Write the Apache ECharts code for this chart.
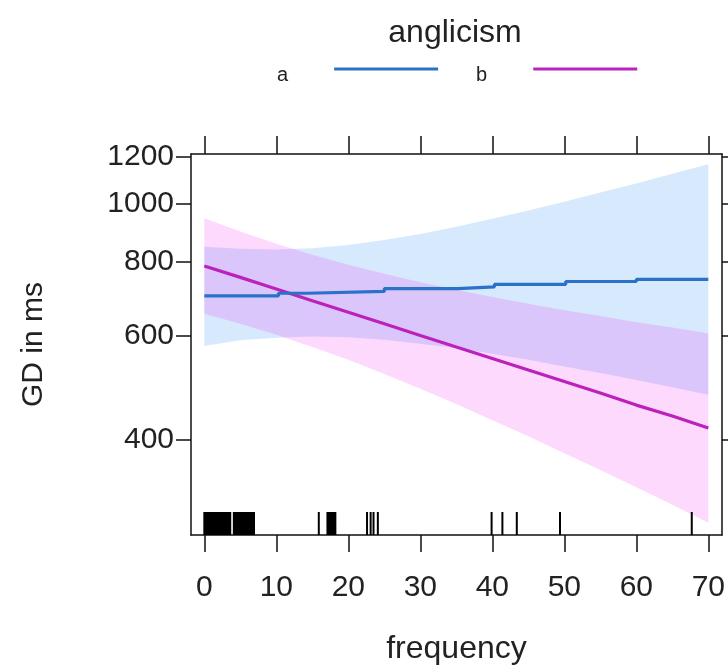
<!DOCTYPE html>
<html>
<head>
<meta charset="utf-8">
<script src="https://cdn.jsdelivr.net/npm/echarts@6/dist/echarts.min.js"></script>
<style>
html,body{margin:0;padding:0;background:#fff;}
#chart{width:728px;height:672px;}
</style>
</head>
<body>
<div id="chart"></div>
<script>
// ---- data ----
const freqGrid = [0, 5, 10, 15, 20, 25, 30, 35, 40, 45, 50, 55, 60, 65, 70];
const aLower = [576, 589, 595, 598, 596, 590, 581, 571, 559, 546, 532, 519, 505, 491, 477];
const aUpper = [847, 840, 838, 842, 853, 869, 890, 915, 944, 975, 1009, 1045, 1083, 1124, 1167];
const bFit   = [786, 752, 719, 687, 657, 628, 600, 574, 549, 525, 502, 480, 458, 439, 419];
const bLower = [653, 628, 602, 574, 546, 517, 488, 460, 432, 406, 380, 356, 333, 311, 290];
const bUpper = [946, 899, 857, 821, 790, 763, 738, 717, 697, 679, 662, 647, 632, 619, 605];
const aStepX = [0, 10.3, 14.3, 25, 35.2, 40.3, 50.2, 60, 70];
const aStepY = [700, 707, 712, 720, 725, 732, 740, 746, 746];
const rugIntervals = [[0, 3.6], [4.1, 6.9], [15.9, 15.9], [17.1, 18.2], [22.6, 22.6], [23.1, 23.1],
  [23.5, 23.5], [24.1, 24.1], [39.9, 39.9], [41.4, 41.4], [43.4, 43.4], [49.4, 49.4], [67.7, 67.7]];
const xTicks = [0, 10, 20, 30, 40, 50, 60, 70];
const yTicks = [400, 600, 800, 1000, 1200];
const X_MIN = -1.85, X_MAX = 71.9;
const Y_MIN = 276.6, Y_MAX = 1214;

const FONT = '"Liberation Sans", Arial, sans-serif';
const chart = echarts.init(document.getElementById('chart'), null, {renderer: 'canvas'});

function bandSeries(name, lo, hi, color) {
  return {
    type: 'custom', name: name, xAxisIndex: 0, yAxisIndex: 0, silent: true, clip: true, z: 1,
    data: freqGrid.map((x, i) => [x, lo[i], hi[i]]),
    encode: {x: 0, y: [1, 2]},
    renderItem: function (params, api) {
      if (params.dataIndex !== 0) return null;
      const pts = [];
      for (let i = 0; i < freqGrid.length; i++) pts.push(api.coord([freqGrid[i], hi[i]]));
      for (let i = freqGrid.length - 1; i >= 0; i--) pts.push(api.coord([freqGrid[i], lo[i]]));
      return {type: 'polygon', shape: {points: pts}, style: {fill: color}};
    }
  };
}

const axisLineStyle = {color: '#111', width: 1.5};

const option = {
  backgroundColor: '#fff',
  animation: false,
  textStyle: {fontFamily: FONT},
  title: {
    text: 'anglicism', left: 450, top: 12, textAlign: 'center',
    textStyle: {fontFamily: FONT, fontSize: 32, fontWeight: 'normal', color: '#222'}
  },
  legend: {
    data: ['a', 'b'], left: 272, top: 60, orient: 'horizontal', align: 'right',
    icon: 'rect', itemWidth: 104, itemHeight: 3, itemGap: 38,
    textStyle: {fontFamily: FONT, fontSize: 20, color: '#222', padding: [0, 41, 0, 0],
      rich: {t: {fontFamily: FONT, fontSize: 20, color: '#222', padding: [12, 0, 0, 0]}}},
    formatter: function (name) { return '{t|' + name + '}'; },
    selectedMode: false
  },
  grid: {left: 191, top: 154, width: 531, height: 381, containLabel: false},
  xAxis: [{
    type: 'value', min: X_MIN, max: X_MAX, position: 'bottom',
    name: 'frequency', nameLocation: 'middle', nameGap: 98,
    nameTextStyle: {fontFamily: FONT, fontSize: 32, color: '#222'},
    axisLine: {show: true, onZero: false, lineStyle: axisLineStyle},
    axisTick: {show: true, length: 17, inside: false, customValues: xTicks, lineStyle: axisLineStyle},
    axisLabel: {show: true, customValues: xTicks, fontSize: 30, color: '#222', margin: 38, fontFamily: FONT},
    splitLine: {show: false}
  }, {
    type: 'value', min: X_MIN, max: X_MAX, position: 'top',
    axisLine: {show: true, onZero: false, lineStyle: axisLineStyle},
    axisTick: {show: true, length: 18, inside: false, customValues: xTicks, lineStyle: axisLineStyle},
    axisLabel: {show: false},
    splitLine: {show: false}
  }],
  yAxis: [{
    type: 'log', logBase: 10, min: Y_MIN, max: Y_MAX, position: 'left',
    name: 'GD in ms', nameLocation: 'middle', nameGap: 142, nameRotate: 90,
    nameTextStyle: {fontFamily: FONT, fontSize: 30, color: '#222'},
    axisLine: {show: true, onZero: false, lineStyle: axisLineStyle},
    axisTick: {show: true, length: 15, inside: false, customValues: yTicks, lineStyle: axisLineStyle},
    axisLabel: {show: true, customValues: yTicks, fontSize: 30, color: '#222', margin: 17, fontFamily: FONT,
      formatter: function (v) { return String(Math.round(v)); }},
    splitLine: {show: false}
  }, {
    type: 'log', logBase: 10, min: Y_MIN, max: Y_MAX, position: 'right',
    axisLine: {show: true, onZero: false, lineStyle: axisLineStyle},
    axisTick: {show: true, length: 15, inside: false, customValues: yTicks, lineStyle: axisLineStyle},
    axisLabel: {show: false},
    splitLine: {show: false}
  }],
  series: [
    bandSeries('a band', aLower, aUpper, 'rgba(20,125,245,0.17)'),
    bandSeries('b band', bLower, bUpper, 'rgba(245,20,240,0.16)'),
    {
      type: 'line', name: 'a', xAxisIndex: 0, yAxisIndex: 0, step: 'end', showSymbol: false, symbol: 'none',
      data: aStepX.map((x, i) => [x, aStepY[i]]),
      lineStyle: {width: 3.2, color: '#2a72c8'}, itemStyle: {color: '#2a72c8'}, z: 3, silent: true
    },
    {
      type: 'line', name: 'b', xAxisIndex: 0, yAxisIndex: 0, showSymbol: false, symbol: 'none',
      data: freqGrid.map((x, i) => [x, bFit[i]]),
      lineStyle: {width: 3.2, color: '#bb22bb'}, itemStyle: {color: '#bb22bb'}, z: 2, silent: true
    },
    {
      type: 'custom', name: 'rug', xAxisIndex: 0, yAxisIndex: 0, silent: true, z: 4,
      data: rugIntervals,
      encode: {x: [0, 1]},
      renderItem: function (params, api) {
        const x0 = api.value(0), x1 = api.value(1);
        const p0 = api.coord([x0, Y_MIN]);
        const p1 = api.coord([x1, Y_MIN]);
        const w = Math.max(p1[0] - p0[0], 0) + 2;
        return {type: 'rect', shape: {x: p0[0] - 1, y: p0[1] - 23, width: w, height: 23}, style: {fill: '#000'}};
      }
    }
  ]
};
chart.setOption(option);
</script>
</body>
</html>
